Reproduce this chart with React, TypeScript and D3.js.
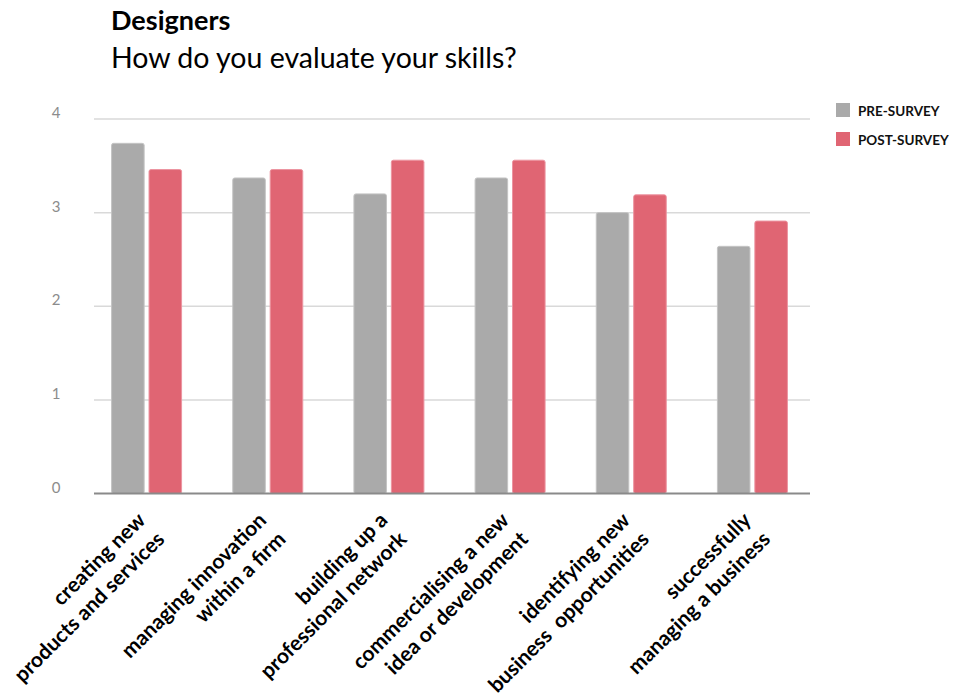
import * as d3 from "d3";

const categories = [
  ["creating new", "products and services"],
  ["managing innovation", "within a firm"],
  ["building up a", "professional network"],
  ["commercialising a new", "idea or development"],
  ["identifying new", "business  opportunities"],
  ["successfully", "managing a business"],
];
const seriesNames = ["PRE-SURVEY", "POST-SURVEY"];
const preSurvey = [3.74, 3.37, 3.2, 3.37, 3.0, 2.64];
const postSurvey = [3.46, 3.46, 3.56, 3.56, 3.19, 2.91];
const yTicks = [0, 1, 2, 3, 4];

const colors = ["#aaaaaa", "#e06573"];
const borders = ["#c4c4c4", "#ec94a0"];
const font = "Lato, 'Open Sans', sans-serif";

const width = 958;
const height = 696;
const axisLeft = 94;
const axisRight = 810;

export default function App() {
  const keys = categories.map((c) => c.join(" "));
  const x = d3.scaleBand<string>().domain(keys).range([86, 813]);
  const groupWidth = 70;
  const xSub = d3
    .scaleBand<string>()
    .domain(seriesNames)
    .range([0, groupWidth])
    .paddingInner(0.13);
  const y = d3.scaleLinear().domain([0, 4]).range([493.5, 119]);
  const values = [preSurvey, postSurvey];

  return (
    <div style={{ position: "absolute", left: 0, top: 0 }}>
      <svg width={width} height={height} style={{ display: "block", fontFamily: font }}>
        <rect width={width} height={height} fill="#ffffff" />
        <text x={111} y={30} fontSize={27} fontWeight={700} fill="#000">
          Designers
        </text>
        <text x={111} y={68} fontSize={28.5} fill="#000">
          How do you evaluate your skills?
        </text>

        {yTicks.map((t) => (
          <g key={t}>
            {t > 0 && (
              <line
                x1={axisLeft}
                x2={axisRight}
                y1={y(t)}
                y2={y(t)}
                stroke="#d9d9d9"
                strokeWidth={1.5}
              />
            )}
            <text
              x={56}
              y={y(t) - 1}
              textAnchor="middle"
              fontSize={15}
              fill="#8c8c8c"
            >
              {t}
            </text>
          </g>
        ))}

        {keys.map((k, i) => {
          const x0 = (x(k) ?? 0) + (x.bandwidth() - groupWidth) / 2;
          return (
            <g key={k}>
              {seriesNames.map((s, j) => {
                const v = values[j][i];
                return (
                  <rect
                    key={s}
                    x={x0 + (xSub(s) ?? 0)}
                    y={y(v)}
                    width={xSub.bandwidth()}
                    height={y(0) - y(v)}
                    rx={2}
                    fill={colors[j]}
                    stroke={borders[j]}
                    strokeWidth={1}
                  />
                );
              })}
            </g>
          );
        })}

        <line
          x1={axisLeft}
          x2={axisRight}
          y1={y(0)}
          y2={y(0)}
          stroke="#8a8a8a"
          strokeWidth={2}
        />

        {categories.map((lines, i) => {
          const cx = (x(keys[i]) ?? 0) + x.bandwidth() / 2;
          return (
            <g key={i} transform={`translate(${cx},${y(0) + 28}) rotate(-45)`}>
              {lines.map((line, li) => (
                <text
                  key={li}
                  x={0}
                  y={li * 27}
                  textAnchor="end"
                  fontSize={21}
                  fontWeight={700}
                  fill="#000"
                  style={{ whiteSpace: "pre" }}
                >
                  {line}
                </text>
              ))}
            </g>
          );
        })}

        {seriesNames.map((s, j) => (
          <g key={s} transform={`translate(836,${103 + j * 29})`}>
            <rect width={14} height={14} fill={colors[j]} />
            <text x={22} y={13} fontSize={13.5} fontWeight={700} fill="#111">
              {s}
            </text>
          </g>
        ))}
      </svg>
    </div>
  );
}
